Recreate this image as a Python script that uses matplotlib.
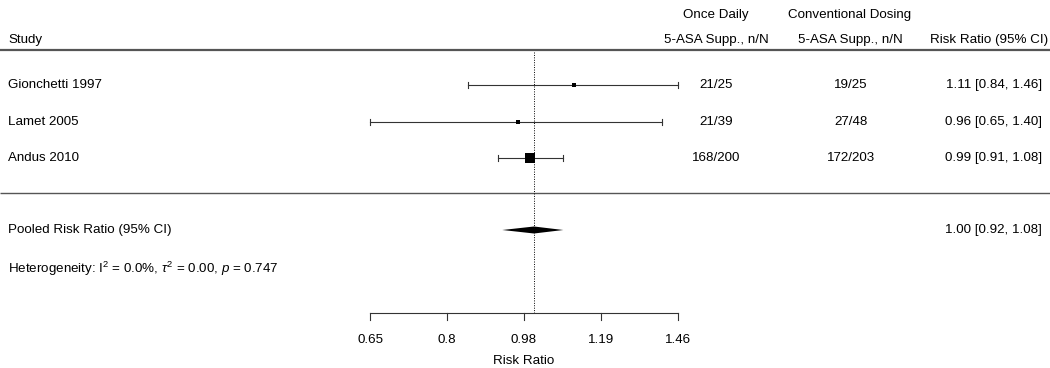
import numpy as np
import matplotlib
matplotlib.use("Agg")
import matplotlib.pyplot as plt
from matplotlib.patches import Polygon

plt.rcParams['font.family'] = ['Liberation Sans', 'DejaVu Sans']
plt.rcParams['mathtext.fontset'] = 'custom'
plt.rcParams['mathtext.rm'] = 'Liberation Sans'
plt.rcParams['mathtext.it'] = 'Liberation Sans:italic'

# data
studies = ['Gionchetti 1997', 'Lamet 2005', 'Andus 2010']
once_daily = ['21/25', '21/39', '168/200']
conventional = ['19/25', '27/48', '172/203']
rr = [1.11, 0.96, 0.99]
ci_low = [0.84, 0.65, 0.91]
ci_high = [1.46, 1.40, 1.08]
weights = [3.2, 2.5, 6.5]  # square size, follows study weight
pooled_rr = 1.00
pooled_low = 0.92
pooled_high = 1.08
tick_labels = ['0.65', '0.8', '0.98', '1.19', '1.46']

W, H = 1050, 368
fig = plt.figure(figsize=(W / 100, H / 100), dpi=100)
ax = fig.add_axes([0, 0, 1, 1])
ax.set_xscale('log')
ax.set_xlim(0.2458, 3.880)
ax.set_ylim(H, 0)
ax.axis('off')

fs = 9.6
tr = ax.get_yaxis_transform()  # x axes fraction, y data


def px(x):
    return x / W


# header
ax.text(px(8), 40, 'Study', transform=tr, fontsize=fs, va='center', ha='left')
ax.text(px(716), 15, 'Once Daily', transform=tr, fontsize=fs, va='center', ha='center')
ax.text(px(716), 40, '5-ASA Supp., n/N', transform=tr, fontsize=fs, va='center', ha='center')
ax.text(px(850), 15, 'Conventional Dosing', transform=tr, fontsize=fs, va='center', ha='center')
ax.text(px(850), 40, '5-ASA Supp., n/N', transform=tr, fontsize=fs, va='center', ha='center')
ax.text(px(1048), 40, 'Risk Ratio (95% CI)', transform=tr, fontsize=fs, va='center', ha='right')

ax.plot([0, 1], [50, 50], transform=tr, color='#555555', lw=1.6, solid_capstyle='butt')
ax.plot([0, 1], [193, 193], transform=tr, color='#555555', lw=1.0, solid_capstyle='butt')

# reference line
ax.plot([1, 1], [52, 313], color='black', lw=0.7, ls=(0, (1, 1.5)))

rows_y = [85, 122, 158]
for i, y in enumerate(rows_y):
    ax.plot([ci_low[i], ci_high[i]], [y, y], color='#333333', lw=0.8)
    for e in (ci_low[i], ci_high[i]):
        ax.plot([e, e], [y - 3, y + 3], color='#333333', lw=0.8)
    ax.plot(rr[i], y, marker='s', color='black', ms=weights[i], mew=0)
    ax.text(px(8), y, studies[i], transform=tr, fontsize=fs, va='center', ha='left')
    ax.text(px(716), y, once_daily[i], transform=tr, fontsize=fs, va='center', ha='center')
    ax.text(px(851), y, conventional[i], transform=tr, fontsize=fs, va='center', ha='center')
    ax.text(px(1042), y, f'{rr[i]:.2f} [{ci_low[i]:.2f}, {ci_high[i]:.2f}]',
            transform=tr, fontsize=fs, va='center', ha='right')

# pooled
py = 230
diamond = Polygon([[pooled_low, py], [pooled_rr, py - 3.5], [pooled_high, py], [pooled_rr, py + 3.5]],
                  closed=True, color='black', lw=0)
ax.add_patch(diamond)
ax.text(px(8), py, 'Pooled Risk Ratio (95% CI)', transform=tr, fontsize=fs, va='center', ha='left')
ax.text(px(1042), py, f'{pooled_rr:.2f} [{pooled_low:.2f}, {pooled_high:.2f}]',
        transform=tr, fontsize=fs, va='center', ha='right')
ax.text(px(8), 269, r'Heterogeneity: I$^2$ = 0.0%, $\tau^2$ = 0.00, $p$ = 0.747',
        transform=tr, fontsize=fs, va='center', ha='left')

# x axis
ticks = np.geomspace(0.65, 1.46, len(tick_labels))
ax.plot([ticks[0], ticks[-1]], [313, 313], color='#333333', lw=0.8)
for t, lab in zip(ticks, tick_labels):
    ax.plot([t, t], [313, 320], color='#333333', lw=0.8)
    ax.text(t, 340, lab, fontsize=fs, va='center', ha='center')
ax.text(np.sqrt(ticks[0] * ticks[-1]), 361, 'Risk Ratio', fontsize=fs, va='center', ha='center')

fig.savefig('out.png', dpi=100)
